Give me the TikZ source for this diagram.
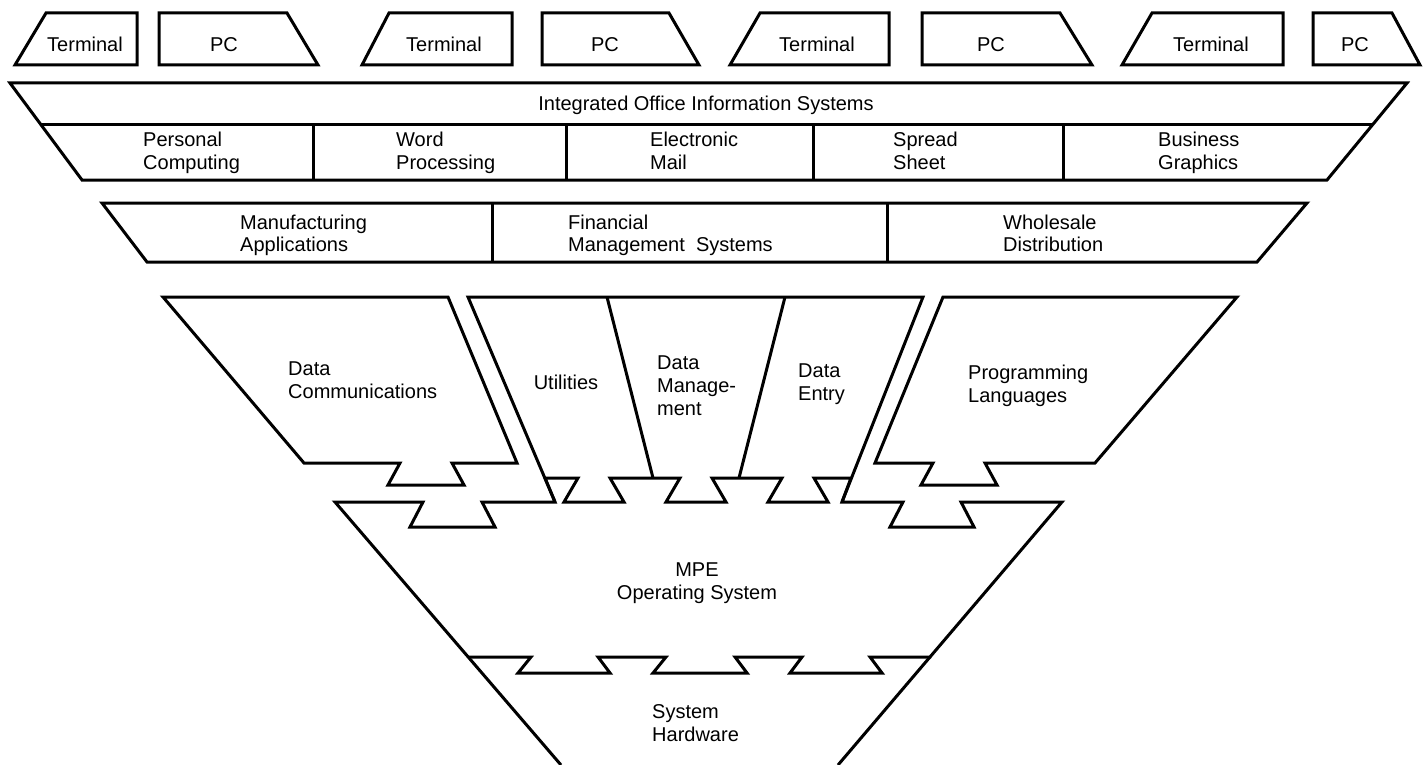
\documentclass[tikz,border=0pt]{standalone}
\usepackage{fontspec}
\setmainfont{Liberation Sans}
\begin{document}
\begin{tikzpicture}[x=1pt,y=-1pt,
  blk/.style={draw=black, line width=3pt, line join=miter},
  txt/.style={inner sep=0pt, font=\fontsize{20}{23}\selectfont, align=left},
  ctxt/.style={inner sep=0pt, font=\fontsize{20}{23}\selectfont, align=center}]
\useasboundingbox (0,0) rectangle (1424,765);
\fill[white] (0,0) rectangle (1424,765);

% ---------- top row: terminals and PCs ----------
\draw[blk] (46,13) -- (137,13) -- (137,65) -- (15,65) -- cycle;
\draw[blk] (159,13) -- (287,13) -- (318,65) -- (159,65) -- cycle;
\draw[blk] (389,13) -- (512,13) -- (512,65) -- (362,65) -- cycle;
\draw[blk] (542,13) -- (669,13) -- (699,65) -- (542,65) -- cycle;
\draw[blk] (760,13) -- (889,13) -- (889,65) -- (730,65) -- cycle;
\draw[blk] (922,13) -- (1060,13) -- (1092,65) -- (922,65) -- cycle;
\draw[blk] (1152,13) -- (1283,13) -- (1283,65) -- (1122,65) -- cycle;
\draw[blk] (1313,13) -- (1392,13) -- (1420,65) -- (1313,65) -- cycle;
\node[txt, anchor=base] (term1) at (85,52) {Terminal};
\node[txt, anchor=base] (pc1) at (224,52) {PC};
\node[txt, anchor=base] (term2) at (444,52) {Terminal};
\node[txt, anchor=base] (pc2) at (605,52) {PC};
\node[txt, anchor=base] (term3) at (817,52) {Terminal};
\node[txt, anchor=base] (pc3) at (991,52) {PC};
\node[txt, anchor=base] (term4) at (1211,52) {Terminal};
\node[txt, anchor=base] (pc4) at (1355,52) {PC};

% ---------- office band ----------
\draw[blk] (10,83) -- (1407,83) -- (1327,180) -- (82,180) -- cycle;
\draw[blk] (41,125) -- (1372,125);
\foreach \x in {313,566,813,1063} \draw[blk] (\x,125) -- (\x,180);
\node[txt, anchor=base] (ioi) at (706,111) {Integrated Office Information Systems};
\node[txt, anchor=north west] (pers) at (143,131.7) {Personal\\Computing};
\node[txt, anchor=north west] (word) at (396,131.7) {Word\\Processing};
\node[txt, anchor=north west] (mail) at (650,131.7) {Electronic\\Mail};
\node[txt, anchor=north west] (sheet) at (893,131.7) {Spread\\Sheet};
\node[txt, anchor=north west] (graph) at (1158,131.7) {Business\\Graphics};

% ---------- application band ----------
\draw[blk] (102,203) -- (1307,203) -- (1257,262) -- (147,262) -- cycle;
\foreach \x in {492,887} \draw[blk] (\x,203) -- (\x,262);
\node[txt, anchor=north west, font=\fontsize{20}{22}\selectfont] (manu) at (240,214.7) {Manufacturing\\Applications};
\node[txt, anchor=north west, font=\fontsize{20}{22}\selectfont] (fin) at (568,214.7) {Financial\\Management\ \ Systems};
\node[txt, anchor=north west, font=\fontsize{20}{22}\selectfont] (whole) at (1003,214.7) {Wholesale\\Distribution};

% ---------- data communications ----------
\draw[blk] (163,297) -- (448,297) -- (517,463) -- (452,463) -- (464,485)
  -- (388,485) -- (400,463) -- (304,463) -- cycle;
\node[txt, anchor=north west] (dc) at (288,361.7) {Data\\Communications};

% ---------- programming languages ----------
\draw[blk] (943,297) -- (1237,297) -- (1095,463) -- (985,463) -- (997,485)
  -- (921,485) -- (933,463) -- (875,463) -- cycle;
\node[txt, anchor=north west] (pl) at (968,364.7) {Programming\\Languages};

% ---------- middle block: utilities / data management / data entry ----------
\draw[blk] (555,502) -- (468,297) -- (923,297) -- (842,502);
\draw[blk] (607,297) -- (653,478);
\draw[blk] (785,297) -- (739,478);
\node[txt, anchor=base] (util) at (566,389) {Utilities};
\node[txt, anchor=north west] (dm) at (657,355.7) {Data\\Manage-\\ment};
\node[txt, anchor=north west] (de) at (798,363.7) {Data\\Entry};

% ---------- MPE operating system ----------
\draw[blk] (561,765) -- (335,502) -- (423,502) -- (410,527) -- (495,527) -- (482,502)
  -- (555,502) -- (545,478)
  -- (578,478) -- (564,502) -- (624,502) -- (610,478)
  -- (680,478) -- (666,502) -- (726,502) -- (712,478)
  -- (782,478) -- (768,502) -- (828,502) -- (814,478)
  -- (851,478) -- (842,502)
  -- (903,502) -- (890,527) -- (974,527) -- (961,502)
  -- (1062,502) -- (838,765);
\node[ctxt, anchor=north] (mpe) at (697,562.7) {MPE\\Operating System};

% ---------- system hardware boundary ----------
\draw[blk] (468,657) -- (531,657) -- (518,673) -- (610,673) -- (598,657)
  -- (666,657) -- (653,673) -- (747,673) -- (735,657)
  -- (802,657) -- (790,673) -- (882,673) -- (870,657) -- (931,657);
\node[txt, anchor=north west] (hw) at (652,704) {System\\Hardware};
\end{tikzpicture}
\end{document}
